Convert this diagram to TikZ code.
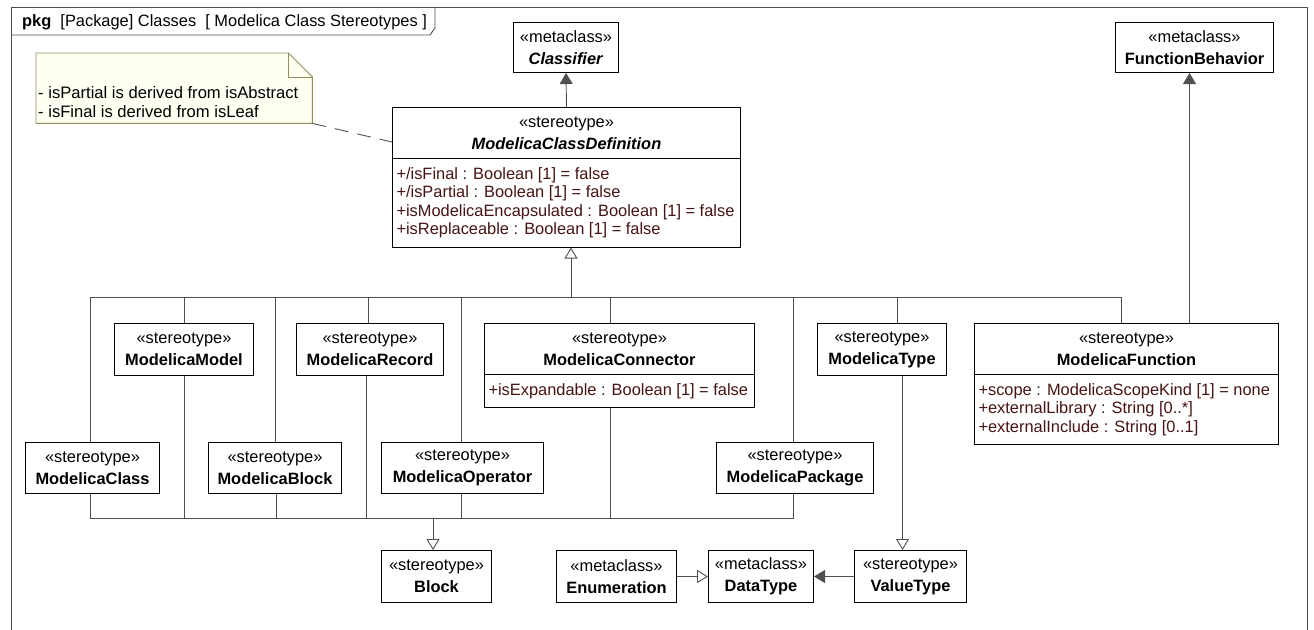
\documentclass[tikz,border=0pt]{standalone}
\usepackage{fontspec}
\setmainfont{Liberation Sans}
\usetikzlibrary{calc,shapes.multipart,arrows.meta}

\definecolor{attr}{RGB}{70,20,20}
\definecolor{notefill}{RGB}{255,255,242}
\definecolor{noteline}{RGB}{150,140,95}
\definecolor{wire}{RGB}{80,80,80}

\begin{document}
\begin{tikzpicture}[x=1pt,y=-1pt,
    every node/.style={font=\fontsize{16.4}{22}\selectfont},
    cls/.style={draw, line width=1pt, fill=white, anchor=north west,
      minimum height=52pt, inner sep=4pt, align=center},
    clsx/.style={cls, rectangle split, rectangle split parts=2,
      rectangle split part align={center,left}, inner ysep=8.5pt},
    attrs/.style={font=\fontsize{16.4}{18.5}\selectfont, text=attr, align=left},
    wire/.style={draw=wire, line width=0.9pt},
    gen/.style={wire, -{Triangle[open,length=11pt,width=13pt]}},
    ext/.style={wire, -{Triangle[length=11pt,width=13pt]}}]
    \useasboundingbox (0,0) rectangle (1314,629);
    \clip (0,0) rectangle (1314,629);
    % frame
    \draw[wire] (11,640) -- (11,7) -- (1307,7) -- (1307,640);
    \draw[wire] (11,35) -- (430,35) -- (435,28) -- (435,7);
    \node (hdr) [anchor=base west, inner sep=0pt] at (22,27)
      {\textbf{pkg}\ \ [Package] Classes\ \ [ Modelica Class Stereotypes ]};
    % note
    \node (note) [anchor=north west, minimum width=276pt, minimum height=70pt,
      inner sep=0pt] at (36,53) {};
    \filldraw[fill=notefill, draw=noteline, line width=0.9pt] (note.south west)
      -- (note.north west) -- ([xshift=-24pt]note.north east)
      -- ([yshift=-24pt]note.north east) -- (note.south east) -- cycle;
    \draw[noteline, line width=0.9pt] ([xshift=-24pt]note.north east)
      -- ([xshift=-24pt,yshift=-24pt]note.north east)
      -- ([yshift=-24pt]note.north east);
    \node (notetxt) [anchor=south west, align=left, inner xsep=2pt,
      inner ysep=6pt, font=\fontsize{16.6}{19}\selectfont] at (note.south west)
      {- isPartial is derived from isAbstract\\- isFinal is derived from isLeaf};
    % metaclasses
    \node (cl) [cls, minimum width=105pt, minimum height=50pt] at (513,22)
      {«metaclass»\\\textbf{\textit{Classifier}}};
    \node (fb) [cls, minimum width=158pt, minimum height=50pt] at (1115,22)
      {«metaclass»\\\textbf{FunctionBehavior}};
    \node (mcd) [clsx, minimum width=348pt, minimum height=158pt] at (392,107)
      {«stereotype»\\\textbf{\textit{ModelicaClassDefinition}}
      \nodepart[attrs]{two}+/isFinal : Boolean [1] = false\\
      +/isPartial : Boolean [1] = false\\
      +isModelicaEncapsulated : Boolean [1] = false\\
      +isReplaceable : Boolean [1] = false};
    % stereotypes, upper row
    \node (mm) [cls, minimum width=139pt] at (114,323)
      {«stereotype»\\\textbf{ModelicaModel}};
    \node (mr) [cls, minimum width=147pt] at (296,323)
      {«stereotype»\\\textbf{ModelicaRecord}};
    \node (mcon) [clsx, minimum width=270pt, minimum height=84pt] at (484,323)
      {«stereotype»\\\textbf{ModelicaConnector}
      \nodepart[attrs]{two}+isExpandable : Boolean [1] = false};
    \node (mt) [cls, minimum width=129pt] at (817,323)
      {«stereotype»\\\textbf{ModelicaType}};
    \node (mf) [clsx, minimum width=304pt, minimum height=120pt] at (974,323)
      {«stereotype»\\\textbf{ModelicaFunction}
      \nodepart[attrs]{two}+scope : ModelicaScopeKind [1] = none\\
      +externalLibrary : String [0..*]\\
      +externalInclude : String [0..1]};
    % stereotypes, lower row
    \node (mcl) [cls, minimum width=134pt, minimum height=51pt] at (25,442)
      {«stereotype»\\\textbf{ModelicaClass}};
    \node (mb) [cls, minimum width=133pt, minimum height=51pt] at (208,442)
      {«stereotype»\\\textbf{ModelicaBlock}};
    \node (mo) [cls, minimum width=162pt, minimum height=51pt] at (381,442)
      {«stereotype»\\\textbf{ModelicaOperator}};
    \node (mp) [cls, minimum width=157pt, minimum height=51pt] at (716,442)
      {«stereotype»\\\textbf{ModelicaPackage}};
    % bottom
    \node (blk) [cls, minimum width=110pt] at (381,550)
      {«stereotype»\\\textbf{Block}};
    \node (en) [cls, minimum width=120pt] at (556,550)
      {«metaclass»\\\textbf{Enumeration}};
    \node (dt) [cls, minimum width=105pt] at (708,550)
      {«metaclass»\\\textbf{DataType}};
    \node (vt) [cls, minimum width=112pt] at (854,550)
      {«stereotype»\\\textbf{ValueType}};
    % connectors
    \draw[wire, dash pattern=on 14pt off 9pt] (note.south east)
      -- ([yshift=-35pt]mcd.north west);
    \draw[ext] (mcd.north) -- (cl.south);
    \coordinate (top) at (571,297);
    \draw[gen] (top) -- (top |- mcd.south);
    \draw[wire] ([xshift=-2pt]mcl.north) |- (top);
    \draw[wire] (mm.north) |- (top);
    \draw[wire] (mb.north) |- (top);
    \draw[wire] ([xshift=-1.5pt]mr.north) |- (top);
    \draw[wire] ([xshift=-1pt]mo.north) |- (top);
    \draw[wire] ([xshift=-9pt]mcon.north) |- (top);
    \draw[wire] ([xshift=-1.5pt]mp.north) |- (top);
    \draw[wire] ([xshift=15.5pt]mt.north) |- (top);
    \draw[wire] ([xshift=-5pt]mf.north) |- (top);
    \coordinate (bot) at (433,518);
    \draw[gen] (bot) -- (bot |- blk.north);
    \draw[wire] ([xshift=-2pt]mcl.south) |- (bot);
    \draw[wire] (mm.south) |- (bot);
    \draw[wire] ([xshift=1.5pt]mb.south) |- (bot);
    \draw[wire] ([xshift=-4pt]mr.south) |- (bot);
    \draw[wire] ([xshift=-1pt]mo.south) |- (bot);
    \draw[wire] ([xshift=-9pt]mcon.south) |- (bot);
    \draw[wire] ([xshift=-1.5pt]mp.south) |- (bot);
    \draw[gen] let \p1 = ([xshift=20.5pt]mt.south), \p2 = (vt.north) in
      (\p1) -- (\x1,\y2);
    \draw[ext] let \p1 = ([xshift=63pt]mf.north), \p2 = (fb.south) in
      (\p1) -- (\x1,\y2);
    \draw[gen] (en) -- (dt);
    \draw[ext] (vt) -- (dt);
\end{tikzpicture}
\end{document}
